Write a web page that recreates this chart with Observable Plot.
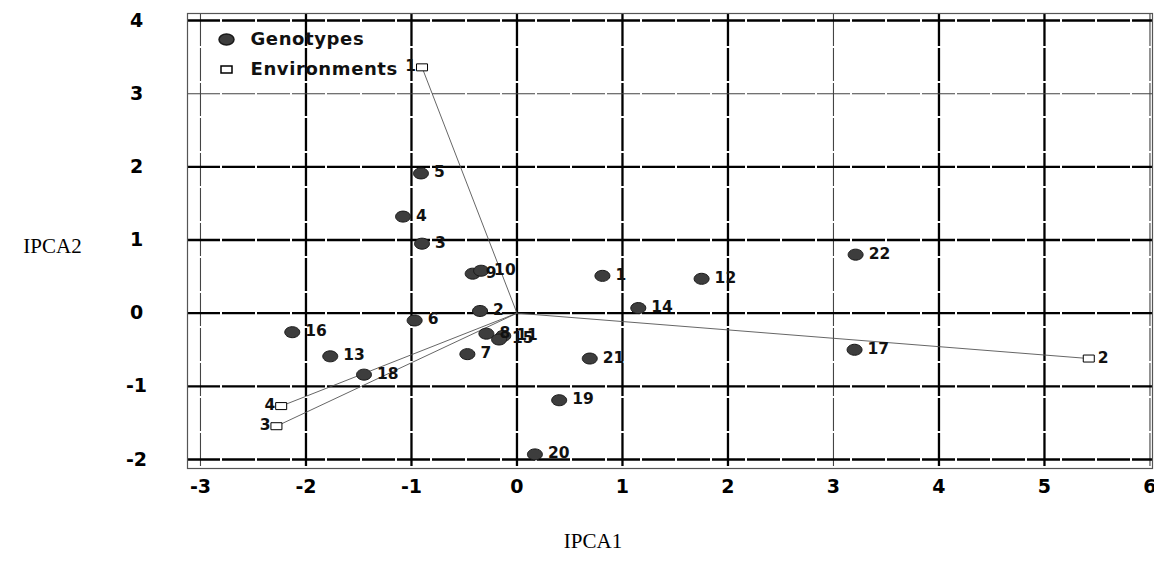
<!DOCTYPE html>
<html>
<head>
<meta charset="utf-8">
<script src="https://cdn.jsdelivr.net/npm/d3@7"></script>
<script src="https://cdn.jsdelivr.net/npm/@observablehq/plot@0.6"></script>
<style>
  html, body { margin: 0; padding: 0; background: #fff; }
  #chart { width: 1154px; height: 561px; }
  text[aria-label="legend-text"] { letter-spacing: 0.6px; }
</style>
</head>
<body>
<div id="chart"></div>
<script>
// ---- Data ----
const genoIds = [1, 2, 3, 4, 5, 6, 7, 8, 9, 10, 11, 12, 13, 14, 15, 16, 17, 18, 19, 20, 21, 22];
const genoX = [0.81, -0.35, -0.90, -1.08, -0.91, -0.97, -0.47, -0.29, -0.42, -0.34, -0.13, 1.75, -1.77, 1.15, -0.17, -2.13, 3.20, -1.45, 0.40, 0.17, 0.69, 3.21];
const genoY = [0.51, 0.03, 0.95, 1.32, 1.91, -0.10, -0.56, -0.28, 0.54, 0.58, -0.31, 0.47, -0.59, 0.07, -0.36, -0.26, -0.50, -0.84, -1.19, -1.93, -0.62, 0.80];

const envIds = [1, 2, 3, 4];
const envX = [-0.90, 5.42, -2.28, -2.235];
const envY = [3.36, -0.62, -1.545, -1.27];

const xTicks = [-3, -2, -1, 0, 1, 2, 3, 4, 5, 6];
const yTicks = [-2, -1, 0, 1, 2, 3, 4];
const xThinTicks = [-3, 3, 6];
const yThinTicks = [3];

const legendLabels = ["Genotypes", "Environments"];
const xLabel = "IPCA1";
const yLabel = "IPCA2";

// ---- Tables built from the arrays ----
const genotypes = genoIds.map((id, i) => ({id, x: genoX[i], y: genoY[i]}));
const environments = envIds.map((id, i) => ({id, x: envX[i], y: envY[i]}));

// ---- Symbols ----
const ellipseSymbol = {
  draw(ctx) {
    const rx = 7.5, ry = 5.5, k = 0.5523;
    ctx.moveTo(rx, 0);
    ctx.bezierCurveTo(rx, ry * k, rx * k, ry, 0, ry);
    ctx.bezierCurveTo(-rx * k, ry, -rx, ry * k, -rx, 0);
    ctx.bezierCurveTo(-rx, -ry * k, -rx * k, -ry, 0, -ry);
    ctx.bezierCurveTo(rx * k, -ry, rx, -ry * k, rx, 0);
    ctx.closePath();
  }
};
const rectSymbol = {
  draw(ctx) { ctx.rect(-5.5, -3.5, 11, 7); }
};

const tickFmt = d => String(d);
const boldFont = "DejaVu Sans";
const legLabel = () => "legend-text";

const chart = Plot.plot({
  width: 1154,
  height: 561,
  marginLeft: 187,
  marginRight: 2,
  marginTop: 13,
  marginBottom: 93,
  x: {domain: [-3.123, 6.024]},
  y: {domain: [-2.123, 4.096]},
  style: {background: "#fff", color: "#000", fontFamily: boldFont},
  marks: [
    // grid
    Plot.ruleX(xTicks.filter(t => !xThinTicks.includes(t)), {stroke: "#000", strokeWidth: 2.3, strokeDasharray: "33,2"}),
    Plot.ruleX(xThinTicks, {stroke: "#444", strokeWidth: 1.1, strokeDasharray: "33,2"}),
    Plot.ruleY(yTicks.filter(t => !yThinTicks.includes(t)), {stroke: "#000", strokeWidth: 2.3, strokeDasharray: "33,2"}),
    Plot.ruleY(yThinTicks, {stroke: "#444", strokeWidth: 1.1, strokeDasharray: "33,2"}),
    Plot.frame({stroke: "#555", strokeWidth: 1.2}),
    // axes
    Plot.axisX({ticks: xTicks, tickSize: 0, tickPadding: 11, tickFormat: tickFmt, label: null,
      fontSize: 19, fontWeight: "bold", fontFamily: boldFont}),
    Plot.axisY({ticks: yTicks, tickSize: 0, tickPadding: 51, textAnchor: "middle", tickFormat: tickFmt, label: null,
      fontSize: 19, fontWeight: "bold", fontFamily: boldFont}),
    // environment vectors
    Plot.link(environments, {x1: () => 0, y1: () => 0, x2: "x", y2: "y", stroke: "#555", strokeWidth: 0.9}),
    // genotype points
    Plot.dot(genotypes, {x: "x", y: "y", symbol: ellipseSymbol, fill: "#3d3d3d", stroke: "#1a1a1a", strokeWidth: 1}),
    Plot.text(genotypes, {x: "x", y: "y", text: "id", textAnchor: "start", dx: 13, dy: -1,
      fontSize: 15.5, fontWeight: "bold", fontFamily: boldFont, fill: "#111"}),
    // environment points
    Plot.dot(environments, {x: "x", y: "y", symbol: rectSymbol, fill: "#fff", stroke: "#000", strokeWidth: 1}),
    Plot.text(environments.filter(d => d.x < 0), {x: "x", y: "y", text: "id", textAnchor: "end", dx: -6, dy: -1,
      fontSize: 15.5, fontWeight: "bold", fontFamily: boldFont, fill: "#111"}),
    Plot.text(environments.filter(d => d.x >= 0), {x: "x", y: "y", text: "id", textAnchor: "start", dx: 9, dy: -1,
      fontSize: 15.5, fontWeight: "bold", fontFamily: boldFont, fill: "#111"}),
    // legend (inside the frame, top-left)
    Plot.dot([legendLabels[0]], {frameAnchor: "top-left", dx: 39, dy: 26, symbol: ellipseSymbol, fill: "#3d3d3d", stroke: "#1a1a1a"}),
    Plot.dot([legendLabels[1]], {frameAnchor: "top-left", dx: 39, dy: 56, symbol: rectSymbol, fill: "#fff", stroke: "#000"}),
    Plot.text([legendLabels[0]], {frameAnchor: "top-left", dx: 63, dy: 26, text: d => d, textAnchor: "start", lineAnchor: "middle",
      fontSize: 18, fontWeight: "bold", fontFamily: boldFont, fill: "#111", ariaLabel: legLabel}),
    Plot.text([legendLabels[1]], {frameAnchor: "top-left", dx: 63, dy: 56, text: d => d, textAnchor: "start", lineAnchor: "middle",
      fontSize: 18, fontWeight: "bold", fontFamily: boldFont, fill: "#111", ariaLabel: legLabel}),
    // axis titles
    Plot.text([yLabel], {frameAnchor: "left", dx: -135, dy: 5, text: d => d, textAnchor: "middle", lineAnchor: "middle",
      fontSize: 21, fontFamily: "Liberation Serif", fill: "#000"}),
    Plot.text([xLabel], {frameAnchor: "bottom", dx: -77, dy: 73, text: d => d, textAnchor: "middle", lineAnchor: "middle",
      fontSize: 21, fontFamily: "Liberation Serif", fill: "#000"})
  ]
});

document.getElementById("chart").appendChild(chart);
</script>
</body>
</html>
